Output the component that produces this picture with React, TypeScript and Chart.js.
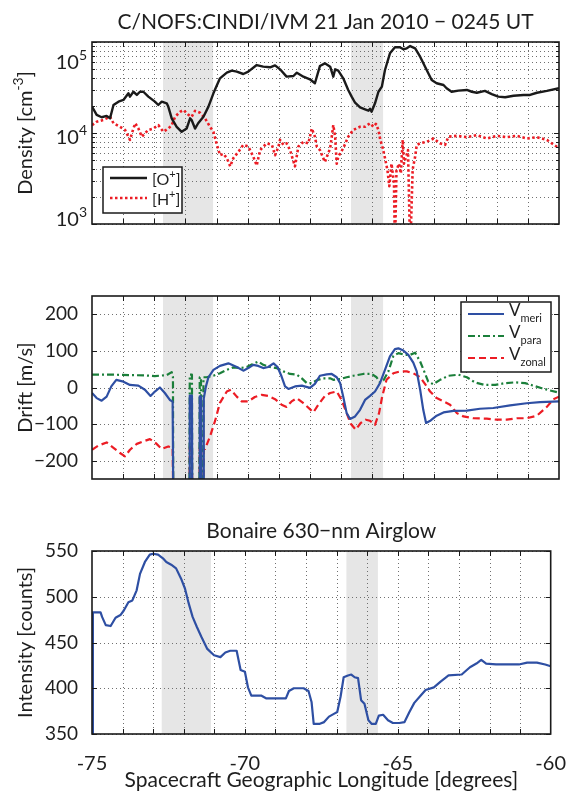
import React, { useEffect, useRef } from "react";
import { Chart, registerables } from "chart.js";
Chart.register(...registerables);

const FONT = "Lato, 'Open Sans', 'DejaVu Sans', sans-serif";
const TEXT = "#1e1e1e";
const BLACK = "#1a1a1a";
const RED = "#ec1c24";
const BLUE = "#2e4fa3";
const GREEN = "#1b7f3a";
const SHADE = "#e6e6e6";
const GRID = "#707070";

// ---------------- shared axis data ----------------
const shadeStart = [-72.72, -66.68];
const shadeEnd = [-71.11, -65.65];
const gridLon = [-74, -73, -72, -71, -70, -69, -68, -67, -66, -65, -64, -63, -62, -61];
const lonTicks = [-75, -70, -65, -60];

// ---------------- panel 1: density ----------------
const densityMajor = [1e3, 1e4, 1e5];
const densityMinor = [2e3, 3e3, 4e3, 5e3, 6e3, 7e3, 8e3, 9e3, 2e4, 3e4, 4e4, 5e4, 6e4, 7e4, 8e4, 9e4];

const oPlusLon = [
  -75.0, -74.85, -74.69, -74.53, -74.42, -74.31, -74.15, -73.99, -73.83, -73.78, -73.67, -73.56, -73.46, -73.35,
  -73.19, -72.98, -72.87, -72.76, -72.6, -72.55, -72.44, -72.28, -72.12, -71.96, -71.85, -71.8, -71.69, -71.59,
  -71.42, -71.26, -71.1, -70.89, -70.67, -70.51, -70.35, -70.14, -69.98, -69.71, -69.5, -69.28, -69.12, -68.96,
  -68.75, -68.53, -68.42, -68.21, -68.0, -67.84, -67.68, -67.52, -67.35, -67.25, -67.19, -67.09, -66.93, -66.77,
  -66.66, -66.55, -66.39, -66.23, -66.12, -66.07, -66.02, -65.91, -65.8, -65.69, -65.59, -65.43, -65.27, -65.11,
  -65.0, -64.89, -64.78, -64.62, -64.46, -64.25, -64.09, -63.93, -63.71, -63.61, -63.45, -63.23, -62.96, -62.8,
  -62.64, -62.38, -62.16, -61.95, -61.73, -61.46, -61.14, -60.93, -60.71, -60.39, -60.0,
];
const oPlusDensity = [
  19500, 15800, 14900, 15400, 14500, 20300, 22100, 23100, 27300, 25100, 28400, 26200, 28400, 28400,
  25100, 22100, 20300, 22100, 21200, 19500, 14500, 11700, 10300, 11200, 14500, 13900, 11200, 12800,
  15100, 19500, 27300, 39900, 46000, 48400, 47200, 44500, 47200, 55800, 53600, 52700, 55400, 50100,
  41600, 42300, 46000, 41600, 38900, 35200, 54400, 58300, 53600, 41600, 50100, 48400, 39900, 29700,
  25100, 21500, 19100, 18200, 17600, 18500, 17100, 21200, 28400, 32300, 49200, 75100, 87500, 87500,
  83200, 85300, 90300, 85300, 68900, 49200, 38200, 35200, 33700, 31000, 28400, 29200, 29700, 28400,
  27700, 29000, 26800, 25100, 24700, 25700, 26200, 26200, 27700, 29000, 31000,
];

const hPlusLon = [
  -75.0, -74.85, -74.64, -74.42, -74.31, -74.1, -73.94, -73.83, -73.78, -73.67, -73.61, -73.51, -73.4, -73.3,
  -73.19, -73.03, -72.87, -72.71, -72.55, -72.44, -72.33, -72.17, -72.06, -71.9, -71.8, -71.69, -71.53, -71.37,
  -71.21, -71.1, -71.0, -70.89, -70.78, -70.67, -70.56, -70.46, -70.3, -70.14, -69.98, -69.82, -69.71, -69.6,
  -69.39, -69.22, -69.12, -69.01, -68.96, -68.85, -68.75, -68.64, -68.48, -68.37, -68.21, -68.05, -67.94, -67.84,
  -67.78, -67.68, -67.52, -67.35, -67.25, -67.19, -67.14, -67.09, -66.93, -66.77, -66.61, -66.39, -66.23, -66.07,
  -65.96, -65.88, -65.8, -65.74, -65.66, -65.59, -65.51, -65.45, -65.38, -65.3, -65.27, -65.22, -65.14, -65.08,
  -65.02, -64.98, -64.91, -64.85, -64.78, -64.7, -64.62, -64.57, -64.46, -64.25, -64.03, -63.82, -63.66, -63.55,
  -63.28, -62.96, -62.64, -62.32, -62.0, -61.68, -61.36, -61.03, -60.71, -60.39, -60.0,
];
const hPlusDensity = [
  12200, 13300, 13900, 15100, 12800, 11700, 10800, 9100, 8400, 11200, 12800, 11200, 9100, 9900,
  10800, 11200, 12200, 10300, 11200, 12200, 15100, 17100, 17900, 15800, 15100, 17500, 16700, 14500,
  11700, 10300, 7700, 5700, 5900, 5300, 4300, 5300, 6200, 7400, 7100, 5500, 4400, 6500,
  7700, 7400, 5700, 7100, 8400, 7400, 7700, 6500, 4300, 7100, 8000, 7700, 11200, 9100,
  7100, 6500, 4800, 6800, 12200, 9100, 4600, 5500, 6800, 9100, 10800, 11700, 11700, 12800,
  11700, 12600, 10800, 8400, 6800, 5300, 3900, 2600, 4600, 2800, 500, 3900, 4600, 3600,
  8400, 4600, 5500, 6500, 500, 4000, 5500, 7400, 7700, 8000, 8700, 7700, 7400, 9100,
  9300, 9000, 9500, 8700, 9300, 9000, 9300, 8700, 9000, 8400, 6800,
];

// ---------------- panel 2: drifts ----------------
const driftTicks = [-200, -100, 0, 100, 200];

const meriLon = [
  -75.0, -74.85, -74.69, -74.53, -74.38, -74.22, -73.99, -73.78, -73.51, -73.3, -73.12, -72.98, -72.82, -72.66,
  -72.5, -72.41, -72.39, -71.87, -71.86, -71.79, -71.78, -71.55, -71.54, -71.5, -71.49, -71.42, -71.41, -71.34,
  -71.26, -71.1, -70.89, -70.62, -70.35, -70.14, -69.98, -69.82, -69.66, -69.5, -69.34, -69.17, -69.04, -68.91,
  -68.8, -68.69, -68.48, -68.26, -68.0, -67.84, -67.68, -67.46, -67.3, -67.14, -67.03, -66.93, -66.82, -66.71,
  -66.55, -66.39, -66.23, -66.07, -65.91, -65.75, -65.59, -65.43, -65.27, -65.16, -65.0, -64.84, -64.68, -64.57,
  -64.46, -64.36, -64.27, -64.12, -63.93, -63.71, -63.39, -62.96, -62.54, -62.11, -61.57, -61.04, -60.61, -60.0,
];
const meriVel = [
  -15, -29, -36, -25, 3, 21, 16, 7, 5, -6, -23, -11, 0, -15,
  -34, -38, -300, -300, -22, -22, -300, -300, -24, -24, -300, -300, -30, 3,
  28, 48, 59, 66, 56, 46, 53, 62, 59, 53, 56, 66, 56, 30,
  3, -4, 3, 5, -1, 10, 32, 36, 37, 28, 12, -25, -70, -86,
  -79, -61, -34, -23, -11, 12, 48, 85, 105, 107, 101, 89, 68, 44,
  -6, -61, -97, -90, -77, -68, -64, -63, -58, -56, -49, -43, -40, -38,
];

const paraLon = [
  -75.0, -74.31, -73.78, -73.3, -72.98, -72.6, -72.44, -72.4, -72.39, -71.87, -71.86, -71.79, -71.78, -71.55,
  -71.54, -71.5, -71.49, -71.43, -71.42, -71.32, -71.1, -70.89, -70.67, -70.46, -70.24, -70.03, -69.82, -69.66,
  -69.5, -69.28, -69.07, -68.85, -68.64, -68.42, -68.26, -68.1, -67.94, -67.78, -67.57, -67.35, -67.25, -67.03,
  -66.82, -66.61, -66.29, -66.02, -65.86, -65.75, -65.64, -65.48, -65.32, -65.16, -64.95, -64.79, -64.62, -64.46,
  -64.33, -64.2, -64.04, -63.82, -63.55, -63.23, -62.96, -62.7, -62.38, -62.05, -61.73, -61.41, -61.09, -60.82,
  -60.55, -60.29, -60.0,
];
const paraVel = [
  35, 35, 34, 33, 31, 34, 42, 30, -300, -300, 35, 35, -300, -300,
  28, 28, -300, -300, 28, 28, 32, 39, 48, 55, 53, 56, 65, 71,
  62, 56, 53, 44, 37, 35, 25, 12, 12, 20, 25, 25, 21, 23,
  28, 32, 37, 37, 28, 14, 19, 44, 86, 94, 89, 89, 95, 71,
  44, 16, 9, 21, 32, 35, 28, 14, 7, 7, 12, 14, 12, 5,
  -2, -8, -14,
];

const zonalLon = [
  -75.0, -74.8, -74.53, -74.31, -74.1, -73.94, -73.78, -73.56, -73.35, -73.14, -72.95, -72.76, -72.55, -72.41,
  -72.39, -71.87, -71.86, -71.79, -71.78, -71.55, -71.54, -71.5, -71.49, -71.42, -71.41, -71.37, -71.21, -71.05,
  -70.89, -70.67, -70.54, -70.35, -70.19, -69.98, -69.77, -69.55, -69.34, -69.12, -68.91, -68.75, -68.59, -68.42,
  -68.21, -68.0, -67.89, -67.73, -67.52, -67.35, -67.14, -66.98, -66.82, -66.69, -66.53, -66.37, -66.21, -66.07,
  -65.91, -65.78, -65.68, -65.54, -65.32, -65.11, -64.89, -64.68, -64.46, -64.3, -64.14, -63.93, -63.71, -63.5,
  -63.28, -63.07, -62.75, -62.32, -62.0, -61.68, -61.36, -61.04, -60.71, -60.39, -60.18, -60.0,
];
const zonalVel = [
  -170, -159, -150, -165, -179, -188, -170, -154, -147, -141, -152, -168, -161, -165,
  -300, -300, -163, -163, -300, -300, -165, -165, -300, -300, -168, -168, -134, -92,
  -42, -11, -6, -25, -38, -38, -26, -20, -23, -32, -47, -53, -38, -29,
  -43, -59, -68, -47, -23, -15, -11, -34, -70, -99, -115, -97, -88, -91,
  -102, -70, -25, 21, 39, 44, 44, 39, 28, 9, -11, -29, -38, -47,
  -70, -79, -84, -85, -88, -88, -84, -84, -77, -53, -32, -25,
];

// ---------------- panel 3: airglow ----------------
const glowTicks = [350, 400, 450, 500, 550];
const glowLon = [
  -75.0, -74.97, -74.72, -74.67, -74.55, -74.39, -74.23, -74.07, -73.96, -73.81, -73.68, -73.54, -73.43, -73.27,
  -73.11, -73.0, -72.84, -72.68, -72.57, -72.41, -72.25, -72.09, -71.96, -71.84, -71.71, -71.57, -71.42, -71.23,
  -71.01, -70.8, -70.64, -70.48, -70.27, -70.14, -70.0, -69.9, -69.79, -69.47, -69.31, -68.99, -68.66, -68.56,
  -68.4, -68.08, -67.92, -67.82, -67.75, -67.57, -67.41, -67.25, -67.09, -66.98, -66.87, -66.77, -66.63, -66.52,
  -66.41, -66.3, -66.2, -66.09, -65.96, -65.85, -65.72, -65.62, -65.48, -65.32, -65.16, -64.95, -64.78, -64.62,
  -64.46, -64.25, -64.09, -63.82, -63.61, -63.34, -62.91, -62.64, -62.43, -62.27, -62.11, -61.79, -61.47, -61.04,
  -60.77, -60.45, -60.18, -60.0,
];
const glowCounts = [
  350, 483, 483, 478, 469, 468, 477, 480, 485, 494, 496, 507, 525, 538,
  546, 547, 546, 542, 538, 535, 531, 520, 509, 493, 478, 467, 456, 443,
  436, 434, 439, 441, 441, 420, 418, 401, 392, 392, 389, 389, 389, 397,
  400, 400, 397, 385, 361, 361, 363, 369, 372, 374, 391, 412, 414, 415,
  412, 411, 387, 383, 365, 361, 361, 370, 371, 365, 362, 362, 363, 374,
  384, 392, 398, 401, 407, 414, 415, 423, 427, 431, 427, 426, 426, 426,
  428, 428, 426, 424,
];

// ---------------- helpers ----------------
const pts = (xs: number[], ys: number[]) => xs.map((x, i) => ({ x, y: ys[i] }));

type Seg = { t: string; s?: "sup" | "sub" };

function drawRich(ctx: CanvasRenderingContext2D, segs: Seg[], x: number, y: number, size: number, align: string, small?: number) {
  const sm = small || Math.round(size * 0.68);
  let w = 0;
  for (const s of segs) {
    ctx.font = `${s.s ? sm : size}px ${FONT}`;
    w += ctx.measureText(s.t).width;
  }
  let cx = align === "right" ? x - w : align === "center" ? x - w / 2 : x;
  ctx.textAlign = "left";
  ctx.textBaseline = "alphabetic";
  const base = y + size * 0.36;
  for (const s of segs) {
    ctx.font = `${s.s ? sm : size}px ${FONT}`;
    const dy = s.s === "sup" ? -size * 0.45 : s.s === "sub" ? size * 0.35 : 0;
    ctx.fillText(s.t, cx, base + dy);
    cx += ctx.measureText(s.t).width;
  }
}

type LegendRow = { segs: Seg[]; color: string; dash: number[]; width: number };

const decoPlugin = {
  id: "deco",
  beforeDatasetsDraw(chart: any, _a: any, o: any) {
    const { ctx, chartArea: ca } = chart;
    const xs = chart.scales.x;
    const ys = chart.scales.y;
    ctx.save();
    ctx.fillStyle = SHADE;
    for (let i = 0; i < shadeStart.length; i++) {
      const a = xs.getPixelForValue(shadeStart[i]);
      const b = xs.getPixelForValue(shadeEnd[i]);
      ctx.fillRect(a, ca.top, b - a, ca.bottom - ca.top);
    }
    ctx.strokeStyle = GRID;
    ctx.lineWidth = 1;
    ctx.setLineDash([1, 3]);
    ctx.beginPath();
    for (const v of gridLon) {
      const px = Math.round(xs.getPixelForValue(v)) + 0.5;
      ctx.moveTo(px, ca.top);
      ctx.lineTo(px, ca.bottom);
    }
    for (const v of o.yGrid) {
      const py = Math.round(ys.getPixelForValue(v)) + 0.5;
      ctx.moveTo(ca.left, py);
      ctx.lineTo(ca.right, py);
    }
    ctx.stroke();
    ctx.restore();
  },
  afterDatasetsDraw(chart: any, _a: any, o: any) {
    const { ctx, chartArea: ca } = chart;
    const xs = chart.scales.x;
    const ys = chart.scales.y;
    ctx.save();
    ctx.setLineDash([]);
    ctx.strokeStyle = BLACK;
    ctx.lineWidth = 1;
    ctx.beginPath();
    for (const v of gridLon) {
      const px = Math.round(xs.getPixelForValue(v)) + 0.5;
      ctx.moveTo(px, ca.bottom);
      ctx.lineTo(px, ca.bottom - 5);
      ctx.moveTo(px, ca.top);
      ctx.lineTo(px, ca.top + 5);
    }
    for (const v of o.yMajor) {
      const py = Math.round(ys.getPixelForValue(v)) + 0.5;
      ctx.moveTo(ca.left, py);
      ctx.lineTo(ca.left + 5, py);
      ctx.moveTo(ca.right, py);
      ctx.lineTo(ca.right - 5, py);
    }
    for (const v of o.yMinor || []) {
      const py = Math.round(ys.getPixelForValue(v)) + 0.5;
      ctx.moveTo(ca.left, py);
      ctx.lineTo(ca.left + 3, py);
      ctx.moveTo(ca.right, py);
      ctx.lineTo(ca.right - 3, py);
    }
    ctx.stroke();
    ctx.lineWidth = 1.6;
    ctx.strokeRect(ca.left, ca.top, ca.right - ca.left, ca.bottom - ca.top);

    ctx.fillStyle = TEXT;
    if (o.title) {
      ctx.font = `21px ${FONT}`;
      ctx.textAlign = "center";
      ctx.textBaseline = "middle";
      ctx.fillText(o.title, (ca.left + ca.right) / 2, ca.top - 20);
    }
    if (o.yTitle) {
      ctx.save();
      ctx.translate(25, (ca.top + ca.bottom) / 2);
      ctx.rotate(-Math.PI / 2);
      drawRich(ctx, o.yTitle, 0, 0, 20, "center", 14);
      ctx.restore();
    }
    if (o.logLabels) {
      for (const v of o.yMajor) {
        const py = ys.getPixelForValue(v);
        const cy = Math.min(Math.max(py + 4, ca.top + 20), ca.bottom - 5);
        const e = String(Math.round(Math.log10(v)));
        drawRich(ctx, [{ t: "10" }, { t: e, s: "sup" }], ca.left - 5, cy, 20, "right", 14);
      }
    }
    if (o.legend) {
      const L = o.legend;
      const bx = L.right ? ca.right - L.dx - L.w : ca.left + L.dx;
      const by = ca.top + L.dy;
      ctx.fillStyle = "#ffffff";
      ctx.fillRect(bx, by, L.w, L.h);
      ctx.strokeStyle = BLACK;
      ctx.lineWidth = 1.5;
      ctx.strokeRect(bx, by, L.w, L.h);
      L.rows.forEach((r: LegendRow, i: number) => {
        const ly = by + L.y0 + i * L.step;
        ctx.strokeStyle = r.color;
        ctx.lineWidth = r.width;
        ctx.setLineDash(r.dash);
        ctx.lineCap = "butt";
        ctx.beginPath();
        ctx.moveTo(bx + 7, ly);
        ctx.lineTo(bx + 7 + L.len, ly);
        ctx.stroke();
        ctx.setLineDash([]);
        ctx.fillStyle = TEXT;
        drawRich(ctx, r.segs, bx + 12 + L.len, ly + L.textDy, L.size, "left", L.small);
      });
    }
    ctx.restore();
  },
};

type Panel = {
  height: number;
  padTop: number;
  xAxisH: number;
  y: any;
  yTicks?: number[];
  yFmt?: (v: number) => string;
  datasets: any[];
  deco: any;
  xLabels?: boolean;
};

function lineDs(data: any[], color: string, width: number, dash: number[]) {
  return {
    data,
    borderColor: color,
    borderWidth: width,
    borderDash: dash,
    borderCapStyle: "butt",
    borderJoinStyle: "round",
    pointRadius: 0,
    tension: 0,
    fill: false,
    clip: 0,
  };
}

function makeChart(canvas: HTMLCanvasElement, p: Panel) {
  const yScale: any = {
    ...p.y,
    grid: { display: false },
    border: { display: false },
    afterFit: (s: any) => {
      s.width = 92;
    },
    ticks: {
      display: !!p.yTicks,
      color: TEXT,
      padding: 6,
      font: { family: FONT, size: 19 },
      callback: (v: any) => (p.yFmt ? p.yFmt(Number(v)) : String(v)),
    },
  };
  if (p.yTicks) {
    yScale.afterBuildTicks = (s: any) => {
      s.ticks = (p.yTicks as number[]).map((v) => ({ value: v }));
    };
  }
  return new Chart(canvas, {
    type: "line",
    data: { datasets: p.datasets },
    options: {
      responsive: false,
      animation: false,
      devicePixelRatio: 1,
      events: [],
      layout: { padding: { top: p.padTop, right: 17, left: 0, bottom: 0 } },
      plugins: { legend: { display: false }, tooltip: { enabled: false }, deco: p.deco } as any,
      scales: {
        x: {
          type: "linear",
          min: -75,
          max: -60,
          grid: { display: false },
          border: { display: false },
          afterBuildTicks: (s: any) => {
            s.ticks = lonTicks.map((v) => ({ value: v }));
          },
          afterFit: (s: any) => {
            s.height = p.xAxisH;
          },
          ticks: {
            display: !!p.xLabels,
            color: TEXT,
            padding: 10,
            maxRotation: 0,
            autoSkip: false,
            font: { family: FONT, size: 20 },
            callback: (v: any) => String(v),
          },
          title: {
            display: !!p.xLabels,
            text: "Spacecraft Geographic Longitude [degrees]",
            color: TEXT,
            font: { family: FONT, size: 21 },
            padding: { top: 0, bottom: 5 },
          },
        },
        y: yScale,
      },
    },
    plugins: [decoPlugin],
  } as any);
}

const panels: Panel[] = [
  {
    height: 262,
    padTop: 42,
    xAxisH: 38,
    y: { type: "logarithmic", min: 1000, max: 100000 },
    datasets: [
      lineDs(pts(oPlusLon, oPlusDensity), BLACK, 2.4, []),
      lineDs(pts(hPlusLon, hPlusDensity), RED, 2.6, [2.5, 2.5]),
    ],
    deco: {
      title: "C/NOFS:CINDI/IVM 21 Jan 2010 \u2212 0245 UT",
      yTitle: [{ t: "Density [cm" }, { t: "-3", s: "sup" }, { t: "]" }],
      yGrid: [...densityMinor, ...densityMajor],
      yMajor: densityMajor,
      yMinor: densityMinor,
      logLabels: true,
      legend: {
        right: false,
        dx: 11,
        dy: 125,
        w: 79,
        h: 46,
        y0: 11,
        step: 20,
        len: 37,
        size: 16,
        small: 11,
        textDy: 1,
        rows: [
          { segs: [{ t: "[O" }, { t: "+", s: "sup" }, { t: "]" }], color: BLACK, dash: [], width: 2.4 },
          { segs: [{ t: "[H" }, { t: "+", s: "sup" }, { t: "]" }], color: RED, dash: [2.5, 2.5], width: 2.6 },
        ],
      },
    },
  },
  {
    height: 238,
    padTop: 34,
    xAxisH: 21,
    y: { type: "linear", min: -250, max: 250 },
    yTicks: driftTicks,
    yFmt: (v) => (v < 0 ? "\u2212" + Math.abs(v) : String(v)),
    datasets: [
      lineDs(pts(meriLon, meriVel), BLUE, 2.2, []),
      lineDs(pts(paraLon, paraVel), GREEN, 2.2, [7, 3, 2, 3]),
      lineDs(pts(zonalLon, zonalVel), RED, 2.2, [7, 4]),
    ],
    deco: {
      yTitle: [{ t: "Drift [m/s]" }],
      yGrid: driftTicks,
      yMajor: driftTicks,
      legend: {
        right: true,
        dx: 8,
        dy: 6,
        w: 90,
        h: 70,
        y0: 12,
        step: 22,
        len: 36,
        size: 17,
        small: 11,
        textDy: -4,
        rows: [
          { segs: [{ t: "V" }, { t: "meri", s: "sub" }], color: BLUE, dash: [], width: 2.2 },
          { segs: [{ t: "V" }, { t: "para", s: "sub" }], color: GREEN, dash: [7, 3, 2, 3], width: 2.2 },
          { segs: [{ t: "V" }, { t: "zonal", s: "sub" }], color: RED, dash: [7, 4], width: 2.2 },
        ],
      },
    },
  },
  {
    height: 298,
    padTop: 51,
    xAxisH: 64,
    y: { type: "linear", min: 350, max: 550 },
    yTicks: glowTicks,
    datasets: [lineDs(pts(glowLon, glowCounts), BLUE, 2.2, [])],
    xLabels: true,
    deco: {
      title: "Bonaire 630\u2212nm Airglow",
      yTitle: [{ t: "Intensity [counts]" }],
      yGrid: glowTicks,
      yMajor: glowTicks,
    },
  },
];

const tops = [0, 262, 500];

function PanelCanvas({ p, top }: { p: Panel; top: number }) {
  const ref = useRef<HTMLCanvasElement | null>(null);
  useEffect(() => {
    if (!ref.current) return;
    const c = makeChart(ref.current, p);
    return () => c.destroy();
  }, [p]);
  return (
    <canvas
      ref={ref}
      width={576}
      height={p.height}
      style={{ position: "absolute", left: 0, top, width: 576, height: p.height }}
    />
  );
}

export default function App() {
  return (
    <div style={{ position: "absolute", left: 0, top: 0, width: 576, height: 798, background: "#ffffff" }}>
      {panels.map((p, i) => (
        <PanelCanvas key={i} p={p} top={tops[i]} />
      ))}
    </div>
  );
}
